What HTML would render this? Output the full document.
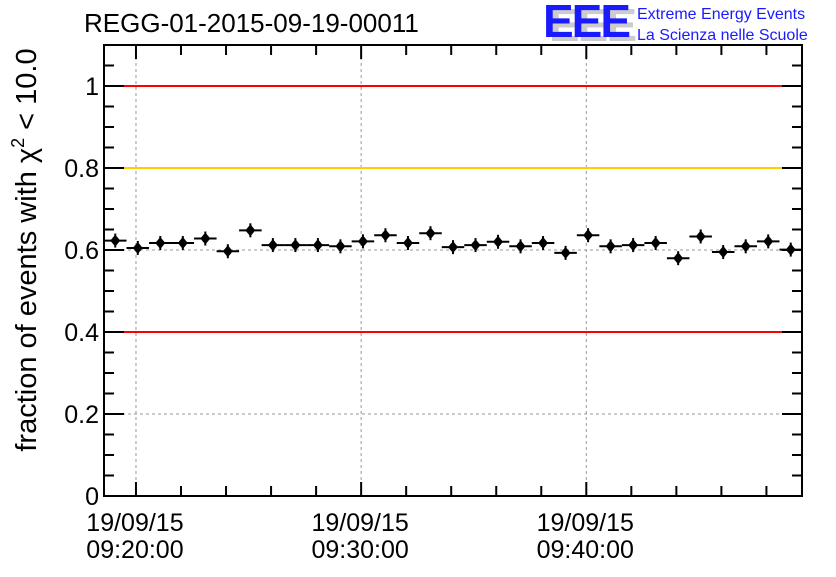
<!DOCTYPE html>
<html><head><meta charset="utf-8"><style>
body{margin:0;background:#fff;width:836px;height:572px;overflow:hidden}
svg{font-family:"Liberation Sans",sans-serif}
</style></head><body>
<svg id="chart" width="836" height="572" xmlns="http://www.w3.org/2000/svg">
<rect width="836" height="572" fill="#fff"/>
<text x="84" y="32" font-size="26">REGG-01-2015-09-19-00011</text>
<g>
<text x="549" y="41" font-size="46" font-weight="bold" fill="#ccc" letter-spacing="-2">EEE</text>
<text x="543" y="37" font-size="46" font-weight="bold" fill="#1a1aff" letter-spacing="-2">EEE</text>
<text x="637" y="19" font-size="16" fill="#1a1aff">Extreme Energy Events</text>
<text x="637" y="40" font-size="16" fill="#1a1aff">La Scienza nelle Scuole</text>
</g>
<g id="grid"></g><g id="lines"></g><g id="marks"></g><g id="axes"></g>
<text transform="translate(36,250) rotate(-90)" text-anchor="middle" font-size="29">fraction of events with χ<tspan dy="-12" font-size="18">2</tspan><tspan dy="12"> &lt; 10.0</tspan></text>
</svg>
<script>
const values=[0.623,0.605,0.617,0.617,0.628,0.597,0.648,0.612,0.612,0.612,0.609,0.621,0.636,0.617,0.641,0.607,0.612,0.62,0.609,0.617,0.593,0.636,0.609,0.612,0.617,0.58,0.633,0.595,0.609,0.621,0.601];
const yTicks=[0,0.2,0.4,0.6,0.8,1];
const yTickLabels=["0","0.2","0.4","0.6","0.8","1"];
const refLines=[1.0,0.8,0.4];
const refColors=["#ff0000","#ffcc00","#ff0000"];
const xTickMinutes=[0,10,20];
const xTickLabels=[["19/09/15","09:20:00"],["19/09/15","09:30:00"],["19/09/15","09:40:00"]];
const startMin=-1.42;
const L=104,R=802,T=45,B=496,yMax=1.1;
const NS="http://www.w3.org/2000/svg";
const nBins=values.length;
const binW=(R-L)/nBins;
function X(m){return L+(m-startMin)*binW;}
function Y(v){return B-v/yMax*(B-T);}
function mk(tag,attrs,parent){const e=document.createElementNS(NS,tag);for(const k in attrs)e.setAttribute(k,attrs[k]);document.getElementById(parent).appendChild(e);return e;}
yTicks.forEach((v,i)=>{if(v>0&&v<yMax){const g=mk('line',{x1:L,x2:R,y1:Y(v),y2:Y(v),stroke:'#999','stroke-dasharray':'3,3'},'grid');

}});
xTickMinutes.forEach(m=>{const g=mk('line',{x1:X(m),x2:X(m),y1:T,y2:B,stroke:'#999','stroke-dasharray':'3,3'},'grid');

});
refLines.forEach((v,i)=>{const l=mk('line',{x1:L,x2:R,y1:Y(v),y2:Y(v),stroke:refColors[i],'stroke-width':2},'lines');

});
values.forEach((v,i)=>{const cx=X(startMin+i+0.5),cy=Y(v);
const g=mk('g',{},'marks');


const a=document.createElementNS(NS,'line');a.setAttribute('x1',cx-binW/2);a.setAttribute('x2',cx+binW/2);a.setAttribute('y1',cy);a.setAttribute('y2',cy);a.setAttribute('stroke','#000');a.setAttribute('stroke-width',2);g.appendChild(a);
const b=document.createElementNS(NS,'line');b.setAttribute('x1',cx);b.setAttribute('x2',cx);b.setAttribute('y1',cy-7);b.setAttribute('y2',cy+7);b.setAttribute('stroke','#000');b.setAttribute('stroke-width',2);g.appendChild(b);
const p=document.createElementNS(NS,'polygon');p.setAttribute('points',`${cx},${cy-6} ${cx+5},${cy} ${cx},${cy+6} ${cx-5},${cy}`);p.setAttribute('fill','#000');g.appendChild(p);});
const f=mk('rect',{x:L,y:T,width:R-L,height:B-T,fill:'none',stroke:'#000','stroke-width':2},'axes');


for(let v=0;v<=yMax+1e-9;v+=0.05){const major=Math.abs(v*5-Math.round(v*5))<1e-6;const len=major?20:10;
mk('line',{x1:L,x2:L+len,y1:Y(v),y2:Y(v),stroke:'#000','stroke-width':2},'axes');
mk('line',{x1:R,x2:R-len,y1:Y(v),y2:Y(v),stroke:'#000','stroke-width':2},'axes');}
yTicks.forEach((v,i)=>{const t=mk('text',{x:L-5,y:Y(v)+9,'text-anchor':'end','font-size':25},'axes');t.textContent=yTickLabels[i];

});
for(let m=0;m<=30;m+=2){const x=X(m);if(x>R)break;const major=m%10===0;const len=major?14:10;
mk('line',{x1:x,x2:x,y1:B,y2:B-len,stroke:'#000','stroke-width':2},'axes');
mk('line',{x1:x,x2:x,y1:T,y2:T+len,stroke:'#000','stroke-width':2},'axes');}
xTickLabels.forEach((lb,i)=>{const x=X(xTickMinutes[i]);
const t1=mk('text',{x:x-1,y:531,'text-anchor':'middle','font-size':25},'axes');t1.textContent=lb[0];


const t2=mk('text',{x:x-1,y:558,'text-anchor':'middle','font-size':25},'axes');t2.textContent=lb[1];

});
</script>
</body></html>
